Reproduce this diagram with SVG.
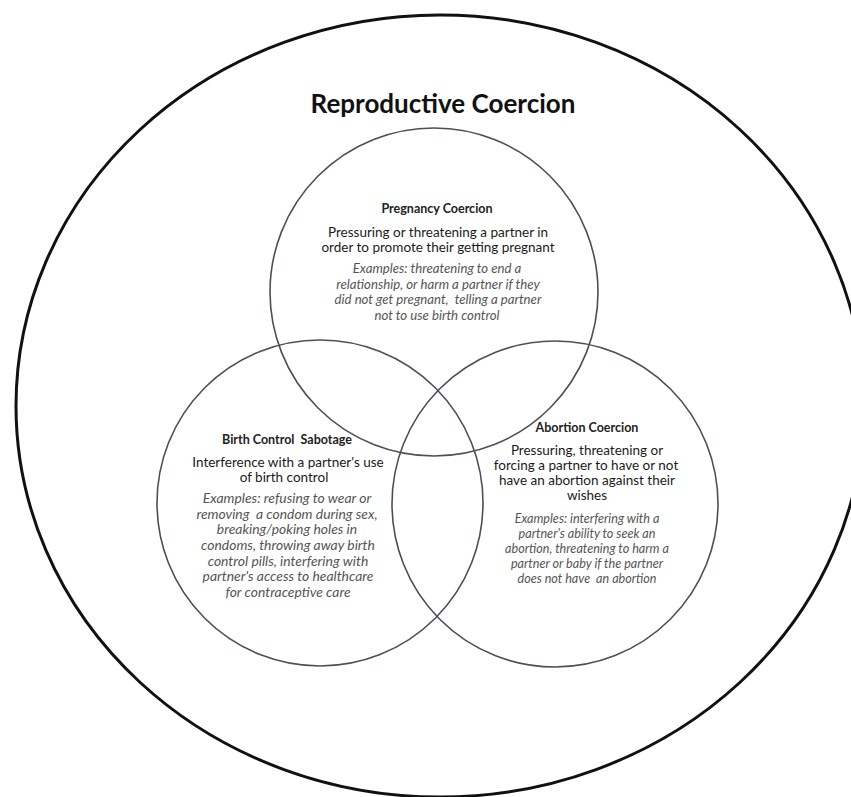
<svg xmlns="http://www.w3.org/2000/svg" width="851" height="797" viewBox="0 0 851 797">
  <style>
    .ring { fill: none; stroke: #4a4f59; stroke-width: 1.6; }
    .outer { fill: none; stroke: #111; stroke-width: 3; }
    text { font-family: Lato, "Open Sans", "Liberation Sans", sans-serif; text-anchor: middle; white-space: pre; }
    .title { font-size: 26px; font-weight: bold; fill: #111; }
    .head { font-size: 12.5px; font-weight: bold; fill: #222; }
    .def { font-size: 13.5px; fill: #1a1a1a; }
    .ex { font-size: 13.2px; font-style: italic; fill: #555; }
    .ex-lg { font-size: 13.9px; }
    .ex-sm { font-size: 12.6px; }
  </style>
  <rect width="851" height="797" fill="#fff"/>

  <!-- outer boundary -->
  <g id="reproductive-coercion">
    <ellipse class="outer" cx="440" cy="406" rx="424" ry="391"/>
    <text class="title" x="443" y="113">Reproductive Coercion</text>
  </g>

  <!-- the three overlapping circles -->
  <g id="pregnancy-coercion">
    <circle class="ring" cx="434" cy="292" r="164"/>
  </g>
  <g id="birth-control-sabotage">
    <circle class="ring" cx="320" cy="503" r="163"/>
  </g>
  <g id="abortion-coercion">
    <circle class="ring" cx="555" cy="504" r="163"/>
  </g>

  <!-- circle texts -->
  <g id="pregnancy-coercion-text">
    <text class="head" x="437" y="213">Pregnancy Coercion</text>
    <text class="def" x="438" y="237">Pressuring or threatening a partner in</text>
    <text class="def" x="438" y="252">order to promote their getting pregnant</text>
    <text class="ex" x="437" y="273">Examples: threatening to end a</text>
    <text class="ex" x="438" y="288.5">relationship, or harm a partner if they</text>
    <text class="ex" x="438" y="304">did not get pregnant,  telling a partner</text>
    <text class="ex" x="437" y="319.5">not to use birth control</text>
  </g>
  <g id="birth-control-sabotage-text">
    <text class="head" x="287" y="444">Birth Control  Sabotage</text>
    <text class="def" x="288" y="467">Interference with a partner's use</text>
    <text class="def" x="284" y="482">of birth control</text>
    <text class="ex ex-lg" x="287" y="503">Examples: refusing to wear or</text>
    <text class="ex ex-lg" x="287" y="518.7">removing  a condom during sex,</text>
    <text class="ex ex-lg" x="287" y="534.3">breaking/poking holes in</text>
    <text class="ex ex-lg" x="288" y="550">condoms, throwing away birth</text>
    <text class="ex ex-lg" x="288" y="565.7">control pills, interfering with</text>
    <text class="ex ex-lg" x="288" y="581.3">partner's access to healthcare</text>
    <text class="ex ex-lg" x="288" y="597">for contraceptive care</text>
  </g>
  <g id="abortion-coercion-text">
    <text class="head" x="587" y="432">Abortion Coercion</text>
    <text class="def" x="587" y="455">Pressuring, threatening or</text>
    <text class="def" x="586" y="470">forcing a partner to have or not</text>
    <text class="def" x="587" y="485">have an abortion against their</text>
    <text class="def" x="587" y="500">wishes</text>
    <text class="ex ex-sm" x="587" y="523">Examples: interfering with a</text>
    <text class="ex ex-sm" x="587" y="538">partner's ability to seek an</text>
    <text class="ex ex-sm" x="587" y="553">abortion, threatening to harm a</text>
    <text class="ex ex-sm" x="587" y="568">partner or baby if the partner</text>
    <text class="ex ex-sm" x="587" y="583">does not have  an abortion</text>
  </g>
</svg>
